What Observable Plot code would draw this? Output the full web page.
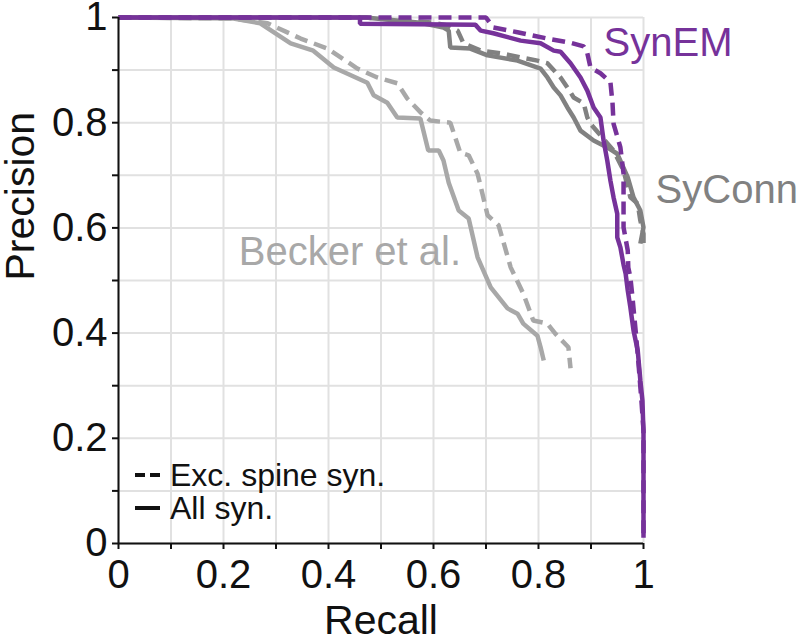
<!DOCTYPE html>
<html>
<head>
<meta charset="utf-8">
<script src="https://cdn.jsdelivr.net/npm/d3@7"></script>
<script src="https://cdn.jsdelivr.net/npm/@observablehq/plot@0.6"></script>
<style>
  html, body { margin: 0; padding: 0; background: #fff; }
  #chart svg { display: block; }
</style>
</head>
<body>
<div id="chart"></div>
<script>
// ---- Data (recall, precision) ----
const synemAll = [[0,1],[0.46,1],[0.46,0.988],[0.68,0.986],[0.69,0.975],[0.714,0.97],[0.766,0.956],[0.804,0.951],[0.829,0.937],[0.842,0.935],[0.861,0.913],[0.88,0.886],[0.893,0.861],[0.905,0.829],[0.918,0.81],[0.924,0.766],[0.931,0.728],[0.937,0.69],[0.943,0.658],[0.95,0.627],[0.95,0.582],[0.956,0.563],[0.962,0.53],[0.966,0.513],[0.97,0.481],[0.975,0.449],[0.981,0.405],[0.989,0.367],[0.994,0.31],[0.998,0.272],[1,0.209],[1,0.011]];
const synemExc = [[0,1],[0.7,1],[0.714,0.981],[0.76,0.972],[0.817,0.96],[0.861,0.952],[0.886,0.945],[0.893,0.932],[0.899,0.905],[0.918,0.894],[0.937,0.877],[0.941,0.837],[0.943,0.798],[0.956,0.753],[0.962,0.703],[0.962,0.601],[0.97,0.557],[0.971,0.525],[0.975,0.506],[0.979,0.468],[0.985,0.405],[0.99,0.348],[0.996,0.272],[1,0.215],[1,0.011]];
const syconnAll = [[0,1],[0.47,1],[0.575,0.99],[0.619,0.981],[0.629,0.975],[0.632,0.943],[0.67,0.941],[0.703,0.928],[0.76,0.918],[0.804,0.903],[0.817,0.886],[0.829,0.867],[0.842,0.852],[0.855,0.829],[0.867,0.81],[0.88,0.785],[0.905,0.766],[0.931,0.753],[0.95,0.741],[0.97,0.696],[0.981,0.658],[0.994,0.633],[1,0.601],[0.994,0.57]];
const syconnExc = [[0,1],[0.47,1],[0.6,0.99],[0.627,0.985],[0.646,0.975],[0.657,0.951],[0.69,0.937],[0.728,0.932],[0.766,0.924],[0.798,0.918],[0.817,0.913],[0.842,0.886],[0.855,0.867],[0.867,0.848],[0.886,0.837],[0.893,0.81],[0.899,0.798],[0.918,0.776],[0.943,0.747],[0.962,0.709],[0.975,0.658],[0.989,0.646],[0.994,0.614],[1,0.589],[1,0.56]];
const beckerAll = [[0,1],[0.219,0.998],[0.27,0.989],[0.328,0.951],[0.371,0.937],[0.41,0.905],[0.474,0.876],[0.486,0.852],[0.512,0.838],[0.531,0.81],[0.575,0.808],[0.59,0.747],[0.61,0.747],[0.619,0.728],[0.629,0.686],[0.648,0.633],[0.667,0.618],[0.684,0.544],[0.709,0.487],[0.741,0.447],[0.76,0.437],[0.771,0.418],[0.798,0.395],[0.804,0.373],[0.81,0.348]];
const beckerExc = [[0,1],[0.219,0.998],[0.284,0.989],[0.347,0.96],[0.398,0.941],[0.455,0.903],[0.493,0.886],[0.531,0.875],[0.55,0.846],[0.575,0.82],[0.594,0.804],[0.632,0.8],[0.651,0.743],[0.667,0.738],[0.684,0.703],[0.703,0.624],[0.724,0.605],[0.747,0.525],[0.771,0.475],[0.79,0.424],[0.817,0.418],[0.832,0.399],[0.857,0.373],[0.861,0.333]];

const xTicks = [0, 0.2, 0.4, 0.6, 0.8, 1];
const xMinorTicks = [0.1, 0.3, 0.5, 0.7, 0.9];
const yTicks = [0, 0.2, 0.4, 0.6, 0.8, 1];
const yMinorTicks = [0.1, 0.3, 0.5, 0.7, 0.9];
const gridTicks = [0, 0.1, 0.2, 0.3, 0.4, 0.5, 0.6, 0.7, 0.8, 0.9, 1];

const labelNames = ["SynEM", "SyConn", "Becker et al."];
const labelX = [0.924, 1.023, 0.229];
const labelY = [0.952, 0.671, 0.553];
const legendLabels = ["Exc. spine syn.", "All syn."];

// ---- Styles ----
const PURPLE = "#76329a";
const DGRAY = "#818181";
const LGRAY = "#a8a8a8";
const labelColors = [PURPLE, DGRAY, LGRAY];
const DASH = "13,7";
const FONT = "'Liberation Sans', Arial, Helvetica, sans-serif";

const fmt = d => String(d);
const line = (data, stroke, dashed) => Plot.line(data, {
  x: d => d[0], y: d => d[1], stroke, strokeWidth: 4.5,
  strokeDasharray: dashed ? DASH : null,
  strokeLinecap: "butt", strokeLinejoin: "miter", clip: false
});

const legendMark = (index, scales, values, dims) => {
  const g = d3.create("svg:g").attr("text-anchor", "start");
  const x0 = dims.marginLeft + 17;
  const yb = dims.height - dims.marginBottom;
  const rows = [yb - 68, yb - 35];
  g.append("line").attr("x1", x0).attr("x2", x0 + 25).attr("y1", rows[0]).attr("y2", rows[0])
    .attr("stroke", "#111").attr("stroke-width", 4).attr("stroke-dasharray", "10,5");
  g.append("line").attr("x1", x0).attr("x2", x0 + 25).attr("y1", rows[1]).attr("y2", rows[1])
    .attr("stroke", "#111").attr("stroke-width", 4);
  legendLabels.forEach((t, i) => {
    g.append("text").attr("x", x0 + 35).attr("y", rows[i]).attr("dy", "0.35em")
      .attr("text-anchor", "start")
      .attr("font-size", 32).attr("font-family", FONT).attr("fill", "#111").text(t);
  });
  return g.node();
};

const chart = Plot.plot({
  width: 798,
  height: 639,
  marginLeft: 118,
  marginRight: 155,
  marginTop: 17,
  marginBottom: 96,
  style: { fontFamily: FONT, background: "#fff", color: "#111", overflow: "visible" },
  x: { domain: [0, 1] },
  y: { domain: [0, 1] },
  marks: [
    Plot.gridX({ ticks: gridTicks, stroke: "#e1e1e1", strokeOpacity: 1, strokeWidth: 2 }),
    Plot.gridY({ ticks: gridTicks, stroke: "#e1e1e1", strokeOpacity: 1, strokeWidth: 2 }),
    Plot.axisX({ ticks: xTicks, tickFormat: fmt, tickSize: 6, tickPadding: 10, strokeWidth: 2, fontSize: 40, label: null }),
    Plot.axisX({ ticks: xMinorTicks, tickFormat: () => "", tickSize: 6, strokeWidth: 2, label: null }),
    Plot.axisY({ ticks: yTicks, tickFormat: fmt, tickSize: 6, tickPadding: 5, strokeWidth: 2, fontSize: 40, label: null }),
    Plot.axisY({ ticks: yMinorTicks, tickFormat: () => "", tickSize: 6, strokeWidth: 2, label: null }),
    Plot.text(["Recall"], { frameAnchor: "bottom", lineAnchor: "middle", dy: 77, fontSize: 41, fill: "#111" }),
    Plot.text(["Precision"], { frameAnchor: "left", lineAnchor: "middle", rotate: -90, dx: -98, fontSize: 41, fill: "#111" }),
    line(beckerExc, LGRAY, true),
    line(beckerAll, LGRAY, false),
    line(syconnExc, DGRAY, true),
    line(syconnAll, DGRAY, false),
    line(synemExc, PURPLE, true),
    line(synemAll, PURPLE, false),
    Plot.ruleY([0], { stroke: "#111", strokeWidth: 2 }),
    Plot.ruleX([0], { stroke: "#111", strokeWidth: 2 }),
    Plot.text(labelNames, {
      x: (d, i) => labelX[i], y: (d, i) => labelY[i], text: d => d,
      fill: (d, i) => labelColors[i], textAnchor: "start", fontSize: 40, clip: false
    }),
    legendMark
  ]
});
document.getElementById("chart").appendChild(chart);
</script>
</body>
</html>
